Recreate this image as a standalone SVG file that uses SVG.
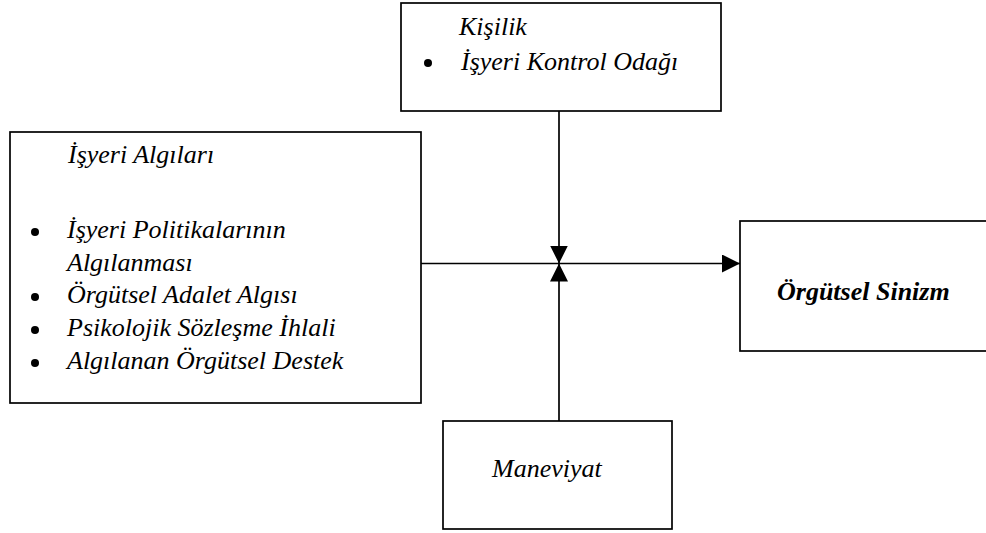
<svg xmlns="http://www.w3.org/2000/svg" width="986" height="533" viewBox="0 0 986 533">
<style>
.box{fill:#fff;stroke:#000;stroke-width:1.7}
.ln{stroke:#000;stroke-width:1.7;fill:none}
.t{font-family:'Liberation Serif','Times New Roman',serif;font-size:26px;font-style:italic;fill:#000}
.b{font-weight:bold}
</style>
<defs>
<marker id="ah" viewBox="0 0 18 18" refX="18" refY="9" markerWidth="18" markerHeight="18" markerUnits="userSpaceOnUse" orient="auto">
<path d="M0,0 L18,9 L0,18 Z" fill="#000"/>
</marker>
</defs>
<rect width="986" height="533" fill="#fff"/>
<g id="connectors">
<line class="ln" x1="421" y1="263.5" x2="740" y2="263.5" marker-end="url(#ah)"/>
<line class="ln" x1="559" y1="111" x2="559" y2="263.5" marker-end="url(#ah)"/>
<line class="ln" x1="559" y1="421" x2="559" y2="263.5" marker-end="url(#ah)"/>
</g>
<g id="kisilik">
<rect class="box" x="401" y="3" width="320" height="108"/>
<text class="t" x="459" y="35">Kişilik</text>
<circle cx="428" cy="63" r="4"/>
<text class="t" x="461" y="70">İşyeri Kontrol Odağı</text>
</g>
<g id="isyeri-algilari">
<rect class="box" x="10" y="132" width="411" height="271"/>
<text class="t" x="68" y="163">İşyeri Algıları</text>
<circle cx="35" cy="232" r="4"/>
<text class="t" x="67" y="238">İşyeri Politikalarının</text>
<text class="t" x="67" y="271">Algılanması</text>
<circle cx="35" cy="297" r="4"/>
<text class="t" x="67" y="303">Örgütsel Adalet Algısı</text>
<circle cx="35" cy="330" r="4"/>
<text class="t" x="67" y="336">Psikolojik Sözleşme İhlali</text>
<circle cx="35" cy="363" r="4"/>
<text class="t" x="67" y="369">Algılanan Örgütsel Destek</text>
</g>
<g id="orgutsel-sinizm">
<rect class="box" x="740" y="221" width="260" height="130"/>
<text class="t b" x="777" y="300">Örgütsel Sinizm</text>
</g>
<g id="maneviyat">
<rect class="box" x="443" y="421" width="229" height="108"/>
<text class="t" x="492" y="477">Maneviyat</text>
</g>
</svg>
